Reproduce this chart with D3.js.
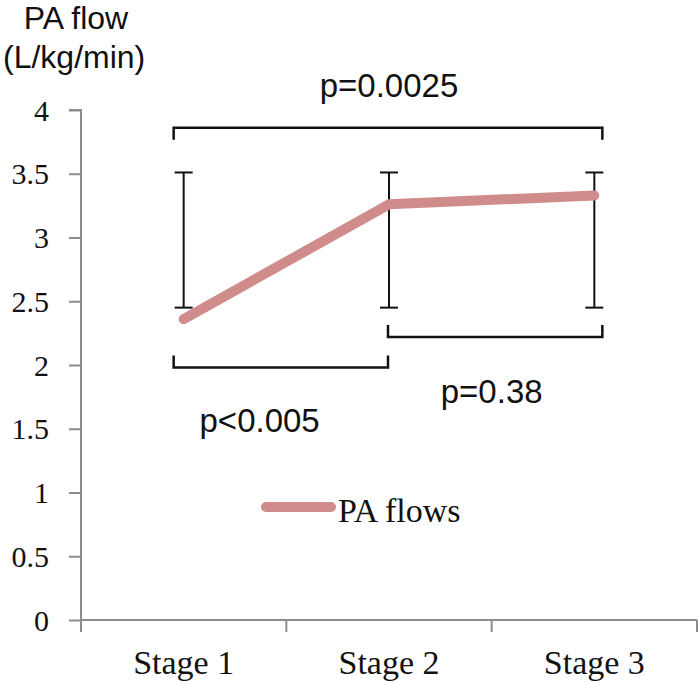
<!DOCTYPE html>
<html><head><meta charset="utf-8">
<script src="https://cdn.jsdelivr.net/npm/d3@7"></script>
<style>body{margin:0;background:#fff}</style>
</head><body>
<svg id="c" width="700" height="685"></svg>
<script>
const categories = ["Stage 1","Stage 2","Stage 3"];
const paFlow = [2.36, 3.26, 3.33];
const errLow = [2.45, 2.45, 2.45];
const errHigh = [3.51, 3.51, 3.51];
const yTicks = [0,0.5,1,1.5,2,2.5,3,3.5,4];
const brackets = [
  {from:0, to:2, y:3.86, label:"p=0.0025", lx:1.0, ly:4.10},
  {from:0, to:1, y:1.98, label:"p<0.005", lx:0.37, ly:1.475},
  {from:1, to:2, y:2.22, label:"p=0.38", lx:1.5, ly:1.70}
];
const bracketDir = [-1, 1, 1];

const svg = d3.select("#c");
const x0 = 81, x1 = 697, yTop = 110, yBot = 620;
const band = d3.scaleBand().domain(categories).range([x0, x1]);
const xc = i => band(categories[i]) + band.bandwidth()/2;
const y = d3.scaleLinear().domain([0,4]).range([yBot, yTop]);
const axisColor = "#8c8c8c";
const serif = "Liberation Serif, DejaVu Serif, serif";
const sans = "Liberation Sans, Arial, sans-serif";

// y axis
const ya = svg.append("g").attr("transform",`translate(${x0},0)`)
  .call(d3.axisLeft(y).tickValues(yTicks).tickSize(12).tickPadding(20).tickFormat(d=>String(d)));
ya.select(".domain").attr("stroke",axisColor).attr("stroke-width",2).attr("d",`M-12,${yTop}H0V${yBot}`);
ya.selectAll(".tick line").attr("stroke",axisColor).attr("stroke-width",2);
ya.selectAll("text").attr("font-family",serif).attr("font-size",30).attr("fill","#111").attr("dy","0.34em");

// x axis
const xa = svg.append("g").attr("transform",`translate(0,${yBot})`)
  .call(d3.axisBottom(band).tickSize(0).tickPadding(30));
xa.select(".domain").attr("stroke",axisColor).attr("stroke-width",2).attr("d",`M${x0},0H${x1}`);
xa.selectAll("text").attr("font-family",serif).attr("font-size",34).attr("fill","#111");
const bounds = [x0, ...categories.slice(1).map(c=>band(c)), x1];
svg.append("g").selectAll("line").data(bounds).join("line")
  .attr("x1",d=>d).attr("x2",d=>d).attr("y1",yBot).attr("y2",yBot+12)
  .attr("stroke",axisColor).attr("stroke-width",2);

// error bars
const eb = svg.append("g").attr("stroke","#111").attr("stroke-width",2);
categories.forEach((c,i)=>{
  const cx = xc(i);
  eb.append("line").attr("x1",cx).attr("x2",cx).attr("y1",y(errHigh[i])).attr("y2",y(errLow[i]));
  eb.append("line").attr("x1",cx-9).attr("x2",cx+9).attr("y1",y(errHigh[i])).attr("y2",y(errHigh[i]));
  eb.append("line").attr("x1",cx-9).attr("x2",cx+9).attr("y1",y(errLow[i])).attr("y2",y(errLow[i]));
});

// line
const lineColor = "#d08b8b";
svg.append("path").datum(paFlow)
  .attr("d", d3.line().x((d,i)=>xc(i)).y(d=>y(d)))
  .attr("fill","none").attr("stroke",lineColor).attr("stroke-width",10)
  .attr("stroke-linecap","round").attr("stroke-linejoin","round");

// brackets
const bg = svg.append("g");
brackets.forEach((b,k)=>{
  const xa_ = b.from===0 ? xc(0)-10 : xc(b.from)-1;
  const xb_ = b.to===2 ? xc(b.to)+8 : xc(b.to)-1;
  const yy = y(b.y);
  const h = 12*bracketDir[k]*-1;
  bg.append("path").attr("d",`M${xa_},${yy+h}V${yy}H${xb_}V${yy+h}`)
    .attr("fill","none").attr("stroke","#111").attr("stroke-width",2.5);
  bg.append("text").attr("x", x0 + b.lx*band.bandwidth() + band.bandwidth()/2 ).attr("y", y(b.ly))
    .attr("text-anchor","middle").attr("font-family",sans)
    .attr("font-size",33).attr("fill","#111").text(b.label);
});

// legend
svg.append("line").attr("x1",266).attr("x2",331).attr("y1",507).attr("y2",507)
  .attr("stroke",lineColor).attr("stroke-width",10).attr("stroke-linecap","round");
svg.append("text").attr("x",338).attr("y",522).attr("font-family",serif)
  .attr("font-size",34).attr("fill","#111").text("PA flows");

// title
svg.append("text").attr("x",76).attr("y",29).attr("text-anchor","middle").attr("font-family",sans)
  .attr("font-size",32).attr("fill","#111").text("PA flow");
svg.append("text").attr("x",3).attr("y",68).attr("font-family",sans)
  .attr("font-size",32).attr("fill","#111").text("(L/kg/min)");
</script>
</body></html>
